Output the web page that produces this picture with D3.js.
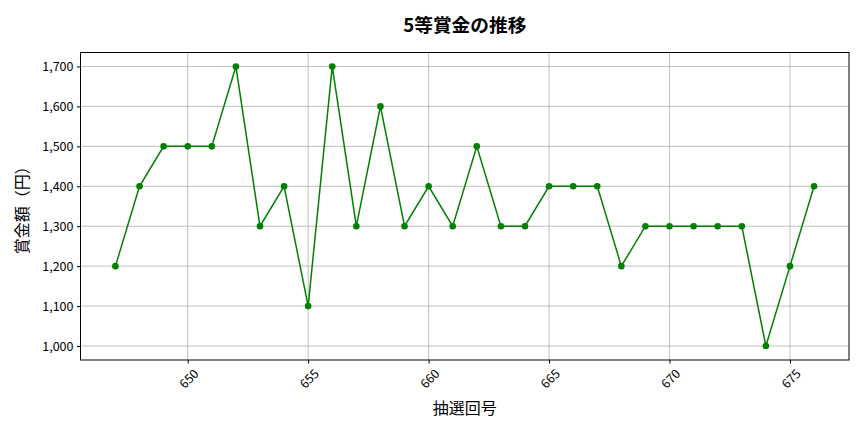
<!DOCTYPE html>
<html>
<head>
<meta charset="utf-8">
<script src="https://cdn.jsdelivr.net/npm/d3@7"></script>
<style>
  body { margin: 0; background: #fff; }
  text { font-family: "Noto Sans CJK JP", "Noto Sans", sans-serif; fill: #000; }
</style>
</head>
<body>
<svg id="chart" width="864" height="432"></svg>
<script>
// 抽選回号 and 5等賞金 (円)
const draws = [647, 648, 649, 650, 651, 652, 653, 654, 655, 656,
  657, 658, 659, 660, 661, 662, 663, 664, 665, 666,
  667, 668, 669, 670, 671, 672, 673, 674, 675, 676];
const prizes = [1200, 1400, 1500, 1500, 1500, 1700, 1300, 1400, 1100, 1700,
  1300, 1600, 1300, 1400, 1300, 1500, 1300, 1300, 1400, 1400,
  1400, 1200, 1300, 1300, 1300, 1300, 1300, 1000, 1200, 1400];
const xTicks = [650, 655, 660, 665, 670, 675];
const yTicks = [1000, 1100, 1200, 1300, 1400, 1500, 1600, 1700];
const title = '5等賞金の推移';
const xLabel = '抽選回号';
const yLabel = '賞金額（円）';

const margin = { top: 52.5, right: 15, bottom: 72, left: 80.5 };
const width = 864, height = 432;
const svg = d3.select('#chart');

const data = draws.map((d, i) => ({ draw: d, prize: prizes[i] }));

// matplotlib-like 5% padding
const xr = d3.extent(draws), yr = d3.extent(prizes);
const xPad = (xr[1] - xr[0]) * 0.05, yPad = (yr[1] - yr[0]) * 0.05;

const x = d3.scaleLinear()
  .domain([xr[0] - xPad, xr[1] + xPad])
  .range([margin.left, width - margin.right]);
const y = d3.scaleLinear()
  .domain([yr[0] - yPad, yr[1] + yPad])
  .range([height - margin.bottom, margin.top]);

// grid
svg.append('g')
  .selectAll('line.vgrid')
  .data(xTicks)
  .join('line')
  .attr('x1', d => x(d)).attr('x2', d => x(d))
  .attr('y1', margin.top).attr('y2', height - margin.bottom)
  .attr('stroke', '#b0b0b0').attr('stroke-width', 0.8);
svg.append('g')
  .selectAll('line.hgrid')
  .data(yTicks)
  .join('line')
  .attr('x1', margin.left).attr('x2', width - margin.right)
  .attr('y1', d => y(d)).attr('y2', d => y(d))
  .attr('stroke', '#b0b0b0').attr('stroke-width', 0.8);

// axes
const xAxis = svg.append('g')
  .attr('transform', `translate(0, ${height - margin.bottom})`)
  .call(d3.axisBottom(x).tickValues(xTicks).tickSize(3.5).tickPadding(3));
xAxis.select('.domain').remove();
xAxis.selectAll('text')
  .attr('font-size', 12.5)
  .attr('text-anchor', 'middle')
  .attr('dy', null)
  .attr('y', 0)
  .attr('transform', 'translate(0, 18) rotate(-45)')
  .attr('dominant-baseline', 'central');

const yAxis = svg.append('g')
  .attr('transform', `translate(${margin.left}, 0)`)
  .call(d3.axisLeft(y).tickValues(yTicks).tickSize(3.5).tickPadding(3.5)
    .tickFormat(d3.format(',')));
yAxis.select('.domain').remove();
yAxis.selectAll('text').attr('font-size', 12.5);

// frame
svg.append('rect')
  .attr('x', margin.left).attr('y', margin.top)
  .attr('width', width - margin.left - margin.right)
  .attr('height', height - margin.top - margin.bottom)
  .attr('fill', 'none').attr('stroke', '#000').attr('stroke-width', 1);

// line + markers
const line = d3.line().x(d => x(d.draw)).y(d => y(d.prize));
svg.append('path')
  .datum(data)
  .attr('d', line)
  .attr('fill', 'none')
  .attr('stroke', '#008000')
  .attr('stroke-width', 1.5);
svg.append('g')
  .selectAll('circle')
  .data(data)
  .join('circle')
  .attr('cx', d => x(d.draw))
  .attr('cy', d => y(d.prize))
  .attr('r', 3.3)
  .attr('fill', '#008000');

// labels
const cx = (margin.left + width - margin.right) / 2;
svg.append('text')
  .attr('x', cx).attr('y', 32)
  .attr('text-anchor', 'middle')
  .attr('font-size', 18.7)
  .attr('font-weight', 'bold')
  .text(title);
svg.append('text')
  .attr('x', cx).attr('y', 414)
  .attr('text-anchor', 'middle')
  .attr('font-size', 16)
  .text(xLabel);
svg.append('text')
  .attr('transform', `translate(28, ${(margin.top + height - margin.bottom) / 2}) rotate(-90)`)
  .attr('text-anchor', 'middle')
  .attr('font-size', 16)
  .text(yLabel);
</script>
</body>
</html>
